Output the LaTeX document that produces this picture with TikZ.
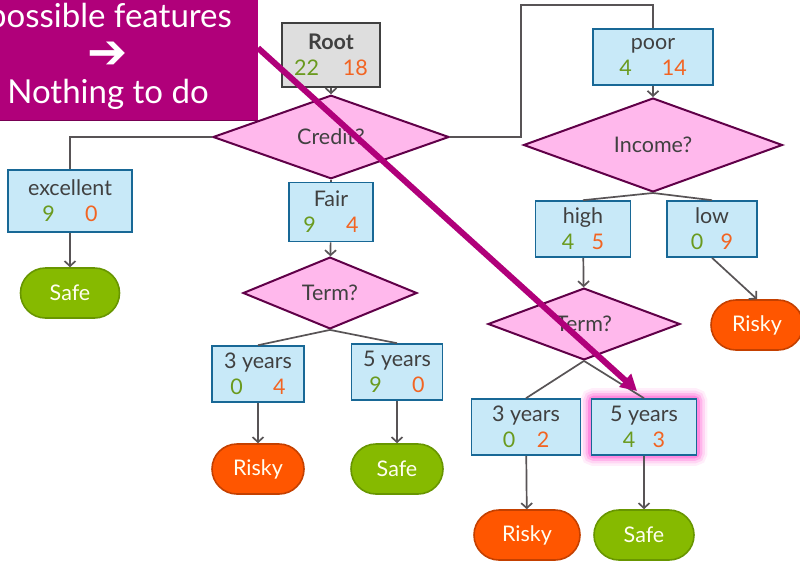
\documentclass[tikz,border=0pt]{standalone}
\usepackage{fontspec}
\setmainfont{Lato}
\newfontfamily\symfont{DejaVu Sans}
\usetikzlibrary{positioning,calc,arrows.meta,shapes.geometric,backgrounds}
\definecolor{inkGray}{RGB}{64,64,64}
\definecolor{wireGray}{RGB}{88,84,86}
\definecolor{splitFill}{RGB}{200,233,248}
\definecolor{splitEdge}{RGB}{24,104,150}
\definecolor{rootFill}{RGB}{222,222,222}
\definecolor{testFill}{RGB}{255,184,236}
\definecolor{testEdge}{RGB}{96,0,72}
\definecolor{safeFill}{RGB}{134,186,0}
\definecolor{safeEdge}{RGB}{104,150,0}
\definecolor{riskFill}{RGB}{255,86,0}
\definecolor{riskEdge}{RGB}{196,64,0}
\definecolor{safeNum}{RGB}{106,154,30}
\definecolor{riskNum}{RGB}{242,100,34}
\definecolor{callFill}{RGB}{176,0,122}
\definecolor{callEdge}{RGB}{120,0,84}
\definecolor{glowPink}{RGB}{255,120,220}

% safe / risky counts under a split label
\newcommand{\tally}[3][1.4em]{{\color{safeNum}#2}\hspace{#1}{\color{riskNum}#3}}

\begin{document}
\begin{tikzpicture}[
  x=1pt,y=-1pt,
  font=\fontsize{21.5}{26}\selectfont,
  split/.style={draw=splitEdge,fill=splitFill,line width=1.6pt,align=center,
                text=inkGray,inner sep=2pt,minimum height=56pt},
  rootbox/.style={split,draw=inkGray,fill=rootFill},
  test/.style={diamond,draw=testEdge,fill=testFill,line width=2pt,
               text=inkGray,inner sep=0pt,minimum height=50pt},
  leaf/.style={rectangle,rounded corners=25pt,line width=1.6pt,
               minimum height=50pt,text=white!94!yellow},
  safe/.style={leaf,draw=safeEdge,fill=safeFill},
  risky/.style={leaf,draw=riskEdge,fill=riskFill},
  wire/.style={draw=wireGray,line width=1.7pt},
  flow/.style={wire,-{Straight Barb[length=5pt,width=11pt,line width=1.7pt]}},
  callout/.style={fill=callFill,draw=none,text=white,align=center,
                  inner sep=0pt,font=\fontsize{33}{38}\selectfont}
]
\useasboundingbox (0,0) rectangle (800,560);
\clip (0,0) rectangle (800,560);

% ==========  Credit level  ==========
\node[rootbox,minimum width=98pt,minimum height=64pt] (root) at (331,55)
  {\textbf{Root}\\\tally[1.1em]{22}{18}};
\node[test,minimum width=236pt,minimum height=48pt] (credit) at (331,137) {Credit?};

\node[split,minimum width=124pt,minimum height=62pt] (excellent) at (70,201)
  {excellent\\\tally{9}{0}};
\node[split,minimum width=84pt,minimum height=59pt] (fair) at (331,212)
  {Fair\\\tally{9}{4}};
\node[split,minimum width=120pt] (poor) at (653,57)
  {poor\\\tally{4}{14}};
\coordinate (hop) at (521,5);

\node[safe,minimum width=99pt] (safeA) at (70,293) {Safe};

% ==========  Term? below fair  ==========
\node[test,minimum width=174pt] (term) at (330,293) {Term?};
\node[split,minimum width=92pt] (yrA) at (258,374) {3 years\\\tally{0}{4}};
\node[split,minimum width=91pt] (yrB) at (397,372) {5 years\\\tally{9}{0}};
\node[risky,minimum width=92pt] (riskA) at (258,469) {Risky};
\node[safe,minimum width=92pt]  (safeB) at (397,469) {Safe};

% ==========  Income? below poor  ==========
\node[test,minimum width=259pt] (income) at (653,145) {Income?};
\node[split,minimum width=95pt] (high) at (583,229) {high\\\tally[0.8em]{4}{5}};
\node[split,minimum width=90pt] (low)  at (712,229) {low\\\tally[0.8em]{0}{9}};
\node[risky,minimum width=92pt] (riskB) at (757,325) {Risky};

\node[test,minimum width=192pt] (termB) at (584,324) {Term?};
\node[split,minimum width=109pt] (yrC) at (526,427) {3 years\\\tally[1em]{0}{2}};
\node[split,minimum width=105pt] (yrD) at (644,427) {5 years\\\tally[0.8em]{4}{3}};
\node[risky,minimum width=106pt] (riskC) at (527,535) {Risky};
\node[safe,minimum width=100pt]  (safeC) at (644,535) {Safe};

% white page, then a glow round the picked split
\begin{pgfonlayer}{background}
  \fill[white] (0,0) rectangle (800,560);
  \foreach \w/\o in {20/0.12,15/0.2,10/0.35,5/0.7}
    \draw[glowPink,line width=\w pt,opacity=\o,rounded corners=3pt]
      (yrD.south west) rectangle (yrD.north east);
\end{pgfonlayer}

% ==========  Connectors  ==========
\draw[flow] (root) -- (credit);
\draw[wire] (credit.west) -| (excellent.north);
\draw[wire] (credit.south) -- (fair.north);
\draw[wire] (credit.east) -| (hop) -| (poor.north);
\draw[flow] (excellent) -- (safeA);

\draw[flow] (fair) -- (term);
\draw[wire] (term.south) -- (yrA.north);
\draw[wire] (term.south) -- (yrB.north);
\draw[flow] (yrA) -- (riskA);
\draw[flow] (yrB) -- (safeB);

\draw[flow] (poor) -- (income);
\draw[wire] (income.south) -- (high.north);
\draw[wire] (income.south) -- (low.north);
\draw[flow] (high) -- (termB);
\draw[flow] (low.south) -- (riskB.north);
\draw[wire] (termB.south) -- (yrC.north);
\draw[wire] (termB.south) -- (yrD.north);
\draw[flow] (yrC) -- (riskC);
\draw[flow] (yrD) -- (safeC);

% ==========  Callout  ==========
\fill[callEdge] (-20,0) rectangle (258,121);
\node[callout,minimum width=278pt,minimum height=120pt,anchor=north west]
  (note) at (-20,0) {};
\node[callout] (noteTop) at (110,18) {possible features};
\node[callout,font=\symfont\bfseries\fontsize{48}{48}\selectfont]
  (noteArrow) at (108,55) {➔};
\node[callout] (noteBottom) at (108,94) {Nothing to do};
\coordinate (from) at (258,48);
\coordinate (to) at (637,391);
\draw[callFill,line width=6pt,-{Triangle[length=16pt,width=17pt]}] (from) -- (to);

\end{tikzpicture}
\end{document}
